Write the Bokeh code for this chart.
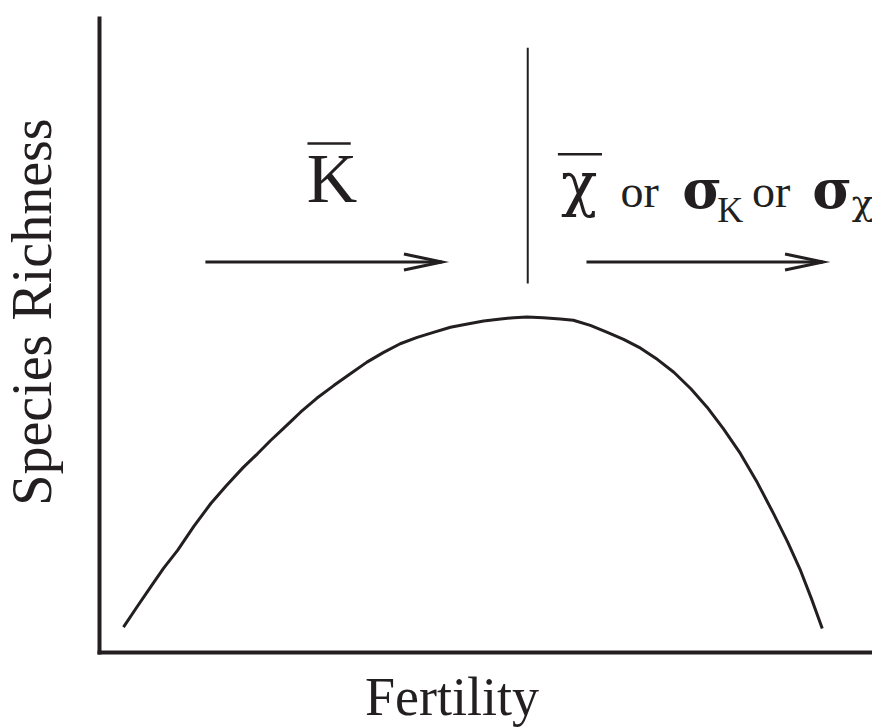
import math

from bokeh.plotting import figure
from bokeh.models import Range1d
from bokeh.core.properties import value
from bokeh.embed import file_html
from bokeh.resources import INLINE

# ---- data -----------------------------------------------------------------
# hump-shaped species richness along a fertility gradient (arbitrary units, 0-100)
fertility = [3.1, 4.8, 6.6, 8.3, 10.1, 12.2, 14.4, 16.4, 18.6, 20.4, 22.1,
             23.6, 24.9, 26.0, 28.1, 30.3, 32.5, 34.6, 36.7, 38.9, 41.1,
             43.2, 45.4, 47.6, 49.7, 51.9, 53.6, 55.3, 57.4, 59.6, 61.3,
             63.5, 65.7, 67.8, 70.0, 72.2, 74.3, 76.5, 78.6, 80.7, 82.9,
             85.1, 87.2, 89.0, 90.7, 92.1, 93.5]
richness = [4.0, 7.1, 10.3, 13.3, 16.1, 19.9, 23.5, 26.3, 29.2, 31.3, 33.4,
            35.1, 36.6, 37.9, 40.1, 42.1, 44.0, 45.8, 47.3, 48.7, 49.7,
            50.5, 51.3, 51.8, 52.3, 52.6, 52.8, 52.9, 52.8, 52.6, 52.4,
            51.6, 50.5, 49.4, 48.0, 46.2, 44.2, 41.6, 38.7, 35.3, 31.4,
            26.8, 21.9, 17.5, 12.9, 8.5, 3.8]

# fertility at which the controlling factor switches (peak of the curve)
switch_fertility = 55.4
switch_span = [58.2, 95.4]

# direction arrows: start / end fertility, drawn at a common height
arrow_start = [13.7, 63.0]
arrow_end = [44.3, 93.6]
arrow_level = 61.6

# axis extents
x_axis_end = 100.0
y_axis_end = 100.0

# ---- layout ---------------------------------------------------------------
W, H = 872, 728
ORIGIN_X, ORIGIN_Y = 99, 652          # pixel position of the axes' corner
PX_X, PX_Y = 7.73, 6.34               # pixels per data unit

INK = "#231f20"
SERIF = "Liberation Serif"
GREEK = "DejaVu Serif"
# half the ascent-minus-descent of each face, in em (text anchor -> baseline)
MID_SHIFT = {SERIF: 0.3375, GREEK: 0.346}

p = figure(width=W, height=H, output_backend="svg", toolbar_location=None,
           x_range=Range1d(-ORIGIN_X / PX_X, (W - ORIGIN_X) / PX_X),
           y_range=Range1d(-(H - ORIGIN_Y) / PX_Y, ORIGIN_Y / PX_Y),
           x_axis_location=None, y_axis_location=None, min_border=0)
p.grid.visible = False
p.outline_line_color = None
p.background_fill_color = "white"
p.border_fill_color = "white"

# axis lines
p.segment(x0=[0, 0], y0=[0, 0], x1=[x_axis_end, 0], y1=[0, y_axis_end],
          line_color=INK, line_width=4, line_cap="square")

# richness curve
p.line(fertility, richness, line_color=INK, line_width=3, line_join="round")

# vertical divider at the switch point
p.segment(x0=[switch_fertility], y0=[switch_span[0]],
          x1=[switch_fertility], y1=[switch_span[1]],
          line_color=INK, line_width=2)

# arrow shafts
p.segment(x0=arrow_start, y0=[arrow_level] * 2, x1=arrow_end,
          y1=[arrow_level] * 2, line_color=INK, line_width=3)

# open chevron heads, computed from the arrow tips
HEAD_LEN, HEAD_HALF = 38 / PX_X, 8 / PX_Y
head_xs = [[t - HEAD_LEN, t, t - HEAD_LEN] for t in arrow_end]
head_ys = [[arrow_level + HEAD_HALF, arrow_level, arrow_level - HEAD_HALF]
           for _ in arrow_end]
p.multi_line(head_xs, head_ys, line_color=INK, line_width=3,
             line_join="miter")


def put(x, base, txt, size, font=SERIF, style="normal", align="left",
        angle=0.0):
    """Place text so that its alphabetic baseline sits at `base`."""
    shift = MID_SHIFT[font] * size
    if angle:
        x -= shift / PX_X
        y = base
    else:
        y = base + shift / PX_Y
    p.text(x=[x], y=[y], text=[txt], text_font=value(font),
           text_font_size=value(f"{size}px"), text_font_style=style,
           text_color=INK, text_align=align, text_baseline="middle",
           angle=angle)


# mean carrying capacity, left of the switch
put(26.8, 71.0, "K", 70)
# right of the switch: mean chi, or sigma_K, or sigma_chi
put(59.7, 70.7, "χ", 60, GREEK)
put(67.4, 70.3, "or", 46)
put(75.4, 70.2, "σ", 54, GREEK, "bold")
put(79.9, 67.9, "K", 36)
put(84.4, 70.3, "or", 46)
put(92.2, 70.2, "σ", 54, GREEK, "bold")
put(97.3, 69.0, "χ", 36, GREEK)

# over-bars marking the means
p.segment(x0=[26.9, 59.3], y0=[80.3, 78.6], x1=[32.5, 65.0], y1=[80.3, 78.6],
          line_color=INK, line_width=2.5)

# axis titles
put(45.6, -9.9, "Fertility", 54, align="center")
put(-6.3, 53.7, "Species Richness", 56, align="center", angle=math.pi / 2)

open("out.html", "w").write(file_html(p, INLINE))
